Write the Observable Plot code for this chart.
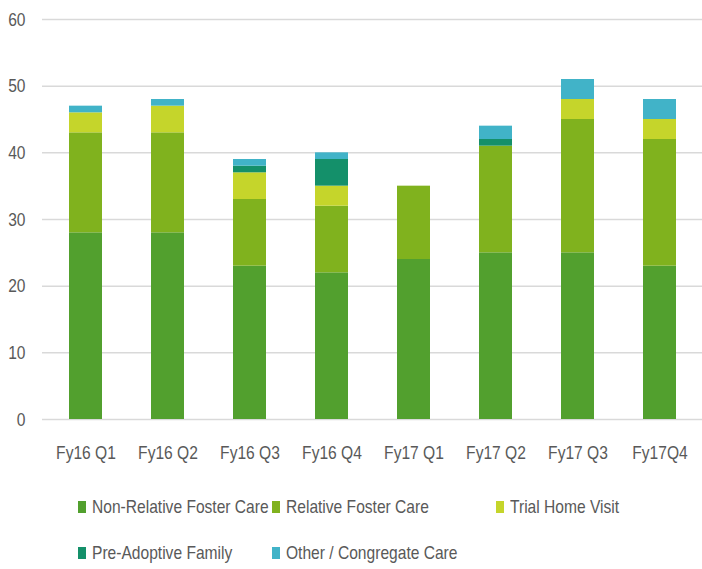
<!DOCTYPE html>
<html>
<head>
<meta charset="utf-8">
<script src="https://cdn.jsdelivr.net/npm/d3@7"></script>
<script src="https://cdn.jsdelivr.net/npm/@observablehq/plot@0.6"></script>
<style>
  body { margin: 0; background: #fff; }
  #wrap { position: relative; width: 702px; height: 569px; font-family: "Liberation Sans", Arial, sans-serif; color: #595959; }
  .leg { position: absolute; font-size: 19px; line-height: 20px; white-space: nowrap; display: flex; align-items: center; }
  .sw { width: 8px; height: 12px; margin-right: 6px; display: inline-block; flex: none; }
  .lt { display: inline-block; transform: scaleX(0.82); transform-origin: 0 50%; }
</style>
</head>
<body>
<div id="wrap"></div>
<script>
const quarters = ["Fy16 Q1", "Fy16 Q2", "Fy16 Q3", "Fy16 Q4", "Fy17 Q1", "Fy17 Q2", "Fy17 Q3", "Fy17Q4"];
const seriesNames = ["Non-Relative Foster Care", "Relative Foster Care", "Trial Home Visit", "Pre-Adoptive Family", "Other / Congregate Care"];
const nonRelative = [28, 28, 23, 22, 24, 25, 25, 23];
const relative    = [15, 15, 10, 10, 11, 16, 20, 19];
const trialHome   = [3, 4, 4, 3, 0, 0, 3, 3];
const preAdoptive = [0, 0, 1, 4, 0, 1, 0, 0];
const otherCare   = [1, 1, 1, 1, 0, 2, 3, 3];
const colors = ["#52a02e", "#80b21e", "#c5d52b", "#14906a", "#41b3c8"];
const yTicks = [0, 10, 20, 30, 40, 50, 60];

const seriesValues = [nonRelative, relative, trialHome, preAdoptive, otherCare];
const data = [];
seriesNames.forEach((s, i) => {
  quarters.forEach((q, j) => {
    data.push({quarter: q, series: s, value: seriesValues[i][j]});
  });
});

const chart = Plot.plot({
  width: 702,
  height: 475,
  marginTop: 19,
  marginBottom: 56,
  marginLeft: 42,
  marginRight: 0,
  style: {fontFamily: "'Liberation Sans', Arial, sans-serif", fontSize: "19px", color: "#595959", background: "#fff"},
  x: {domain: quarters, paddingInner: 0.6, paddingOuter: 0.3, label: null},
  y: {domain: [0, 60], label: null},
  color: {domain: seriesNames, range: colors},
  marks: [
    Plot.ruleY(yTicks, {stroke: "#d9d9d9", strokeWidth: 1.5}),
    Plot.barY(data, {x: "quarter", y: "value", fill: "series", order: seriesNames}),
    Plot.axisX({tickSize: 0, tickPadding: 26, fontSize: 19, fill: "#595959"}),
    Plot.axisY({ticks: yTicks, tickSize: 0, tickPadding: 17, fontSize: 19, fill: "#595959"})
  ]
});

const wrap = document.getElementById("wrap");
wrap.appendChild(chart);

// condense axis text horizontally (narrow face look)
chart.querySelectorAll("text").forEach(t => {
  const w = t.getComputedTextLength();
  if (w > 0) {
    t.setAttribute("textLength", (w * 0.82).toFixed(1));
    t.setAttribute("lengthAdjust", "spacingAndGlyphs");
  }
});

const legendPos = [
  {x: 78, y: 497}, {x: 272, y: 497}, {x: 496, y: 497},
  {x: 78, y: 543}, {x: 272, y: 543}
];
seriesNames.forEach((s, i) => {
  const d = document.createElement("div");
  d.className = "leg";
  d.style.left = legendPos[i].x + "px";
  d.style.top = legendPos[i].y + "px";
  const sw = document.createElement("span");
  sw.className = "sw";
  sw.style.background = colors[i];
  d.appendChild(sw);
  const lt = document.createElement("span");
  lt.className = "lt";
  lt.textContent = s;
  d.appendChild(lt);
  wrap.appendChild(d);
});
</script>
</body>
</html>
